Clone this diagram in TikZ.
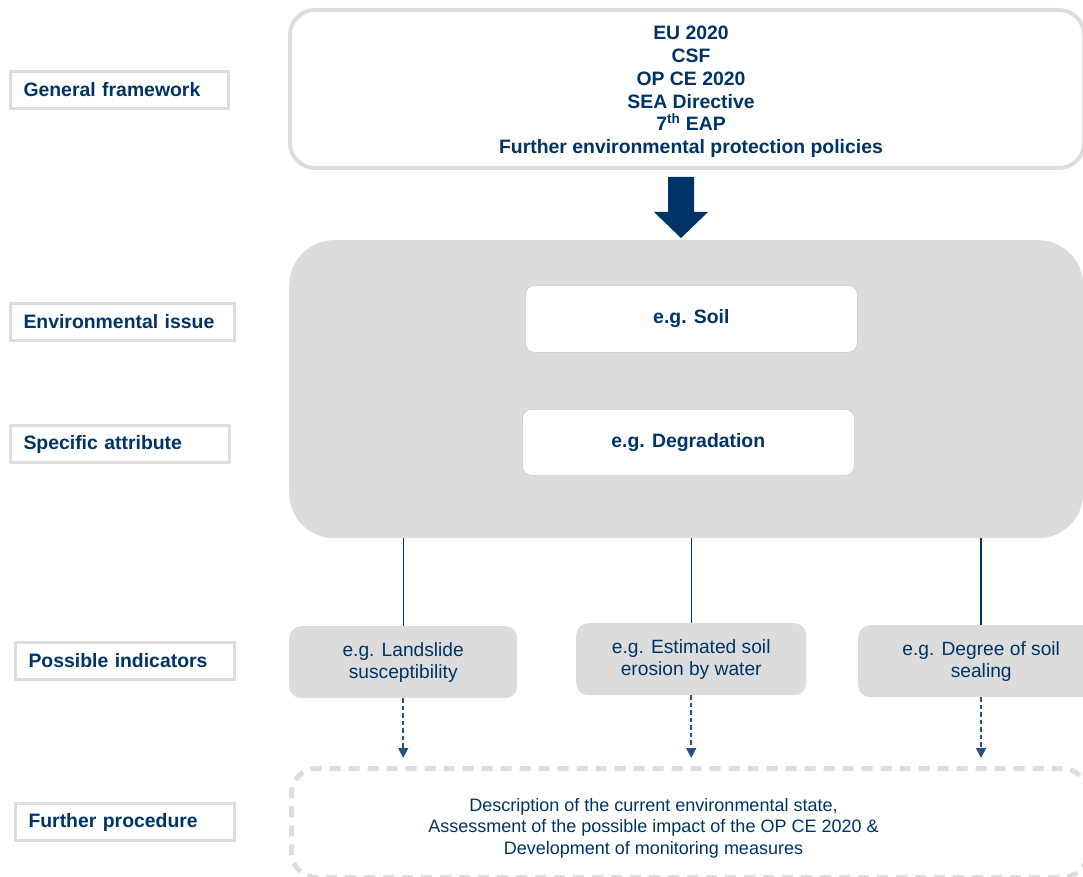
\documentclass[tikz,border=0pt]{standalone}
\usepackage{fontspec}
\setmainfont{Liberation Sans}
\usetikzlibrary{arrows.meta}
\definecolor{navy}{RGB}{0,51,102}
\definecolor{lgrey}{RGB}{221,221,221}
\definecolor{boxgrey}{RGB}{220,220,220}
\definecolor{edgegrey}{RGB}{200,200,200}
\begin{document}
\begin{tikzpicture}[x=1pt,y=-1pt,
  lbl/.style={draw=lgrey, line width=3pt, fill=white, anchor=north west,
    minimum height=37pt, text width=#1, align=left, inner xsep=13pt, inner ysep=0pt,
    font=\fontsize{19.4}{23}\selectfont\bfseries, text=navy},
  topbox/.style={draw=lgrey, line width=4pt, rounded corners=25pt, fill=white,
    anchor=north west},
  toptext/.style={align=center, text=navy,
    font=\fontsize{19.4}{22.8}\selectfont\bfseries},
  mainbox/.style={fill=boxgrey, rounded corners=45pt, anchor=north west},
  whitebox/.style={draw=edgegrey, line width=0.6pt, fill=white, rounded corners=9pt,
    anchor=north west, text=navy, font=\fontsize{19.4}{23}\selectfont\bfseries},
  indbox/.style={fill=boxgrey, rounded corners=12pt, anchor=north west,
    minimum height=72pt, align=center, text=navy,
    font=\fontsize{19.2}{22}\selectfont},
  conn/.style={draw=navy, line width=1.2pt},
  darr/.style={draw=navy!85, line width=1.5pt, dash pattern=on 4.5pt off 3pt,
    -{Triangle[width=10pt,length=10pt]}, shorten >=8pt},
  procbox/.style={draw=lgrey, line width=5pt, dash pattern=on 11pt off 8pt,
    rounded corners=25pt, anchor=north west},
  proctext/.style={align=center, text=navy, font=\fontsize{18}{21.5}\selectfont}
]
\useasboundingbox (0,0) rectangle (1083,877);

% left labels
\node[lbl=192pt, minimum width=218pt] (gf) at (9,70) {General framework};
\node[lbl=198pt, minimum width=224pt] (ei) at (9,302) {Environmental issue};
\node[lbl=193pt, minimum width=219pt] (sa) at (9,424) {Specific attribute};
\node[lbl=193pt, minimum width=219pt] (pi) at (14,641) {Possible indicators};
\node[lbl=193pt, minimum width=219pt] (fp) at (14,802) {Further procedure};

% top framework box
\node[topbox, minimum width=794pt, minimum height=158pt] (fw) at (288,8) {};
\node[toptext] (fwtext) at ([xshift=4pt,yshift=-3pt]fw.center)
  {EU 2020\\CSF\\OP CE 2020\\SEA Directive\\7\textsuperscript{th} EAP\\Further environmental protection policies};

% big arrow
\fill[navy] (668,177) -- (694,177) -- (694,212) -- (708,212) -- (681,238)
  -- (654,212) -- (668,212) -- cycle;

% main grey box
\node[mainbox, minimum width=794pt, minimum height=298pt] (issue) at (289,240) {};
\node[whitebox, minimum width=332pt, minimum height=67pt] (soil) at (525,285) {e.g. Soil};
\node[whitebox, minimum width=332pt, minimum height=66pt] (deg) at (522,409) {e.g. Degradation};

% indicators
\node[indbox, minimum width=228pt] (ind1) at (289,626) {e.g. Landslide\\susceptibility};
\node[indbox, minimum width=230pt] (ind2) at (576,623) {e.g. Estimated soil\\erosion by water};
\node[indbox, minimum width=246pt] (ind3) at (858,625) {e.g. Degree of soil\\sealing};

\draw[conn] (issue.south -| ind1.north) -- (ind1.north);
\draw[conn] (issue.south -| ind2.north) -- (ind2.north);
\draw[conn] (issue.south -| 981,0) coordinate (c3) -- (c3 |- ind3.north);

% further procedure
\node[procbox, minimum width=796pt, minimum height=109pt] (proc) at (289,766) {};
\node[proctext] (proctxt) at ([xshift=-36pt,yshift=-5pt]proc.center)
  {Description of the current environmental state,\\Assessment of the possible impact of the OP CE 2020 \&\\Development of monitoring measures};

\draw[darr] (ind1.south) -- (ind1.south |- proc.north);
\draw[darr] (ind2.south) -- (ind2.south |- proc.north);
\draw[darr] (c3 |- ind3.south) -- (c3 |- proc.north);
\end{tikzpicture}
\end{document}
